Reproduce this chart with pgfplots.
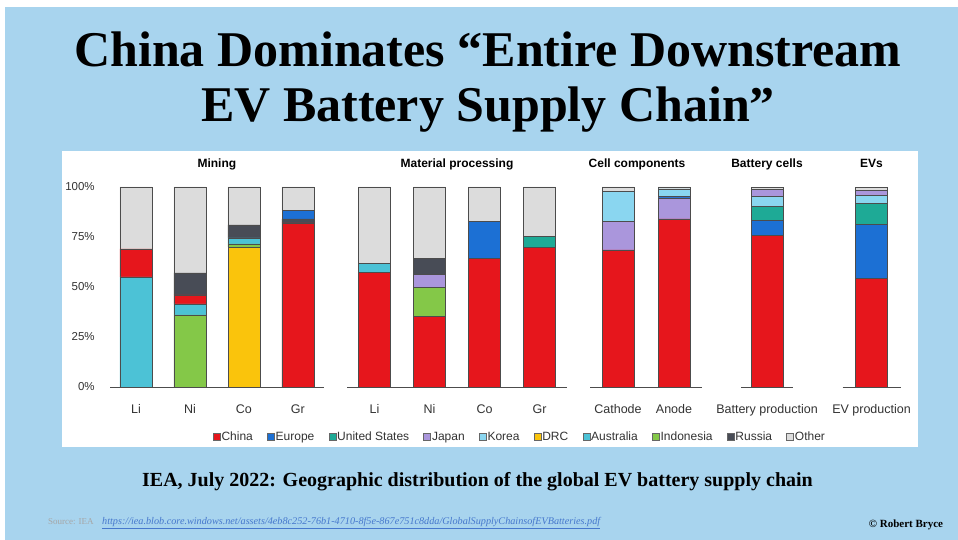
\documentclass[border=0pt]{standalone}
\usepackage{pgfplots}
\pgfplotsset{compat=1.18}
\usepackage{fontspec}
\setmainfont{Liberation Sans}
\newfontfamily\serif{Liberation Serif}

\definecolor{bgblue}{RGB}{168,212,238}
\definecolor{linkblue}{RGB}{70,120,205}
\definecolor{cChina}{RGB}{230,22,28}
\definecolor{cEurope}{RGB}{28,112,212}
\definecolor{cUS}{RGB}{30,170,150}
\definecolor{cJapan}{RGB}{170,150,220}
\definecolor{cKorea}{RGB}{138,214,240}
\definecolor{cDRC}{RGB}{250,196,12}
\definecolor{cAustralia}{RGB}{76,194,214}
\definecolor{cIndonesia}{RGB}{132,200,72}
\definecolor{cRussia}{RGB}{72,76,86}
\definecolor{cOther}{RGB}{220,220,220}

\pgfplotsset{
  supply/.style={
    ybar stacked, scale only axis, bar width=32bp,
    height=200bp, ymin=0, ymax=100, enlargelimits=false,
    axis x line=bottom, axis y line=left,
    x axis line style={-, draw=black!70, line width=0.8bp},
    y axis line style={draw=none},
    xtick style={draw=none}, ytick style={draw=none},
    ytick=\empty,
    xticklabel style={font=\fontsize{12.5bp}{14bp}\selectfont, text=black!80,
      anchor=base, yshift=-24bp},
    title style={font=\bfseries\fontsize{12bp}{14bp}\selectfont,
      at={(0.5,1)}, anchor=base, yshift=14bp},
    every axis plot/.append style={draw=black!70, line width=0.5bp},
    clip=false,
  },
}

\begin{document}
\begin{tikzpicture}[x=1bp,y=1bp]
\fill[white] (0,0) rectangle (958,540);
\fill[bgblue] (5,0) rectangle (958,533);
\fill[white] (62,93) rectangle (918,389);

\node[anchor=base, font=\serif\bfseries\fontsize{50bp}{55bp}\selectfont] at (488,473) {China Dominates “Entire Downstream};
\node[anchor=base, font=\serif\bfseries\fontsize{50bp}{55bp}\selectfont] at (488,418) {EV Battery Supply Chain”};
\node[anchor=base, font=\serif\bfseries\fontsize{20bp}{22bp}\selectfont] at (477.5,53) {IEA, July 2022: Geographic distribution of the global EV battery supply chain};
\node[anchor=base west, inner sep=0pt, font=\serif\fontsize{9bp}{10bp}\selectfont, text=black!35] at (48,15) {Source: IEA};
\node[anchor=base west, inner sep=0pt, font=\serif\itshape\fontsize{10.2bp}{11bp}\selectfont, text=linkblue] at (102,15) {\underline{https://iea.blob.core.windows.net/assets/4eb8c252-76b1-4710-8f5e-867e751c8dda/GlobalSupplyChainsofEVBatteries.pdf}};
\node[anchor=base, font=\serif\bfseries\fontsize{11bp}{12bp}\selectfont] at (906,12) {© Robert Bryce};

% Mining
\begin{axis}[supply, at={(110bp,153bp)}, anchor=south west, width=213.8bp,
  xmin=-0.48, xmax=3.48, xtick={0,1,2,3}, xticklabels={Li,Ni,Co,Gr},
  title={Mining},
  ytick={0,25,50,75,100}, yticklabels={0\%,25\%,50\%,75\%,100\%},
  yticklabel style={font=\fontsize{11.5bp}{13bp}\selectfont, text=black!80,
    anchor=east, inner sep=0pt, xshift=-13bp}]
\addplot[fill=cDRC]       coordinates {(0,0) (1,0) (2,70) (3,0)};
\addplot[fill=cIndonesia] coordinates {(0,0) (1,36) (2,1.5) (3,0)};
\addplot[fill=cAustralia] coordinates {(0,55) (1,5.5) (2,3) (3,0)};
\addplot[fill=cChina]     coordinates {(0,14) (1,4.5) (2,0) (3,82)};
\addplot[fill=cRussia]    coordinates {(0,0) (1,11) (2,6.5) (3,2)};
\addplot[fill=cEurope]    coordinates {(0,0) (1,0) (2,0) (3,4.3)};
\addplot[fill=cOther]     coordinates {(0,31) (1,43) (2,19) (3,11.7)};
\end{axis}

% Material processing
\begin{axis}[supply, at={(347bp,153bp)}, anchor=south west, width=220bp,
  xmin=-0.5, xmax=3.5, xtick={0,1,2,3}, xticklabels={Li,Ni,Co,Gr},
  title={Material processing}]
\addplot[fill=cChina]     coordinates {(0,57.3) (1,35.2) (2,64.3) (3,69.7)};
\addplot[fill=cIndonesia] coordinates {(0,0) (1,14.5) (2,0) (3,0)};
\addplot[fill=cEurope]    coordinates {(0,0) (1,0) (2,18.4) (3,0)};
\addplot[fill=cUS]        coordinates {(0,0) (1,0) (2,0) (3,5.8)};
\addplot[fill=cAustralia] coordinates {(0,4.5) (1,0) (2,0) (3,0)};
\addplot[fill=cJapan]     coordinates {(0,0) (1,6.8) (2,0) (3,0)};
\addplot[fill=cRussia]    coordinates {(0,0) (1,7.8) (2,0) (3,0)};
\addplot[fill=cOther]     coordinates {(0,38.2) (1,35.7) (2,17.3) (3,24.5)};
\end{axis}

% Cell components
\begin{axis}[supply, at={(590bp,153bp)}, anchor=south west, width=112bp,
  xmin=-0.5, xmax=1.5, xtick={0,1}, xticklabels={Cathode,Anode},
  title={Cell components}, title style={xshift=-9bp}]
\addplot[fill=cChina]  coordinates {(0,68.5) (1,84)};
\addplot[fill=cJapan]  coordinates {(0,14.2) (1,10.5)};
\addplot[fill=cEurope] coordinates {(0,0) (1,1)};
\addplot[fill=cKorea]  coordinates {(0,15) (1,3.5)};
\addplot[fill=cOther]  coordinates {(0,2.3) (1,1)};
\end{axis}

% Battery cells
\begin{axis}[supply, at={(741bp,153bp)}, anchor=south west, width=52bp,
  xmin=-0.5, xmax=0.5, xtick={0}, xticklabels={Battery production},
  title={Battery cells}]
\addplot[fill=cChina]  coordinates {(0,76)};
\addplot[fill=cEurope] coordinates {(0,7.2)};
\addplot[fill=cUS]     coordinates {(0,7)};
\addplot[fill=cKorea]  coordinates {(0,5)};
\addplot[fill=cJapan]  coordinates {(0,3.6)};
\addplot[fill=cOther]  coordinates {(0,1.2)};
\end{axis}

% EVs
\begin{axis}[supply, at={(842.5bp,153bp)}, anchor=south west, width=58bp,
  xmin=-0.5, xmax=0.5, xtick={0}, xticklabels={EV production},
  title={EVs}]
\addplot[fill=cChina]  coordinates {(0,54.3)};
\addplot[fill=cEurope] coordinates {(0,27.2)};
\addplot[fill=cUS]     coordinates {(0,10.3)};
\addplot[fill=cKorea]  coordinates {(0,4.2)};
\addplot[fill=cJapan]  coordinates {(0,2.5)};
\addplot[fill=cOther]  coordinates {(0,1.5)};
\end{axis}

% shared legend
\begin{axis}[at={(0bp,0bp)}, anchor=south west, scale only axis,
  width=958bp, height=540bp, xmin=0, xmax=958, ymin=0, ymax=540, hide axis,
  legend style={at={(0.5423,0.1907)}, anchor=center, draw=none, fill=none,
    font=\fontsize{12bp}{14bp}\selectfont, text=black!80, legend columns=-1,
    /tikz/every even column/.append style={column sep=13bp},
    nodes={inner sep=1.2bp}},
  legend image code/.code={\draw[#1, draw=black!60, line width=0.4bp] (0bp,-3bp) rectangle (7bp,4bp);}]
\addlegendimage{fill=cChina}     \addlegendentry{China}
\addlegendimage{fill=cEurope}    \addlegendentry{Europe}
\addlegendimage{fill=cUS}        \addlegendentry{United States}
\addlegendimage{fill=cJapan}     \addlegendentry{Japan}
\addlegendimage{fill=cKorea}     \addlegendentry{Korea}
\addlegendimage{fill=cDRC}       \addlegendentry{DRC}
\addlegendimage{fill=cAustralia} \addlegendentry{Australia}
\addlegendimage{fill=cIndonesia} \addlegendentry{Indonesia}
\addlegendimage{fill=cRussia}    \addlegendentry{Russia}
\addlegendimage{fill=cOther}     \addlegendentry{Other}
\end{axis}

\pgfresetboundingbox
\useasboundingbox (0,0) rectangle (958,540);
\end{tikzpicture}
\end{document}
